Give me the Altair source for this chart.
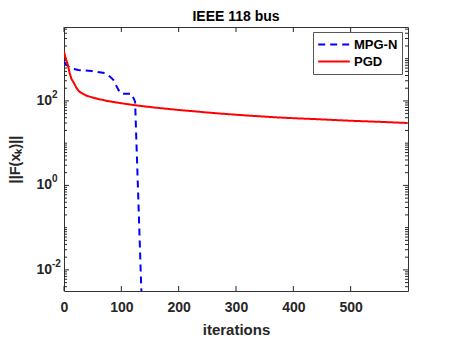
import altair as alt
import pandas as pd
import numpy as np

# ---- data ----
mpg_x = [0, 6, 13, 25, 48, 71, 78, 86, 95, 100, 118, 124, 135]
mpg_y = [810, 680, 590, 540, 510, 455, 400, 315, 182, 147, 147, 96, 0.003]

pgd_x = [0, 3, 6, 10, 13, 16, 19, 22, 26, 31, 40, 54, 75, 100, 130, 157, 200, 266, 320, 382, 440, 498, 550, 599]
pgd_y = [1480, 1000, 780, 450, 330, 285, 240, 200, 170, 152, 132, 116, 100, 88, 77, 70, 61, 51, 45, 40, 37, 34, 32, 30]

x_ticks = [0, 100, 200, 300, 400, 500]
y_major = [0.01, 1, 100]
y_minor = [m * 10.0 ** k for k in range(-3, 4) for m in range(1, 10)
           if 10 ** -2.5 <= m * 10.0 ** k <= 10 ** 3.75 and not any(abs(m * 10.0 ** k - v) < 1e-12 for v in y_major)]

W, H = 344, 264
FONT = "Liberation Sans"
AX = "#262626"

df = pd.concat([
    pd.DataFrame({"it": mpg_x, "val": mpg_y, "method": "MPG-N"}),
    pd.DataFrame({"it": pgd_x, "val": pgd_y, "method": "PGD"}),
])

xs = alt.Scale(domain=[0, 600], nice=False, zero=False)
ys = alt.Scale(type="log", domain=[10 ** -2.5, 10 ** 3.75], nice=False)

lines = alt.Chart(df).mark_line(strokeWidth=2, clip=True).encode(
    x=alt.X("it:Q", scale=xs,
            axis=alt.Axis(values=x_ticks, domain=False, ticks=False, tickSize=0, grid=False,
                          labelFlush=False,
                          labelFont=FONT, labelFontSize=14, labelFontWeight="bold", labelColor=AX,
                          labelPadding=9, title="iterations", titleFont=FONT, titleFontSize=15,
                          titleFontWeight="bold", titleColor=AX, titleX=W / 2, titleY=38,
                          titleBaseline="middle")),
    y=alt.Y("val:Q", scale=ys,
            axis=alt.Axis(labels=False, domain=False, ticks=False, grid=False,
                          title="||F(xₖ)||", titleFont=FONT, titleFontSize=14.5, titleFontWeight="bold",
                          titleColor=AX, titleX=-48.5, titleY=H / 2, titleAngle=270,
                          titleAlign="center", titleBaseline="middle")),
    color=alt.Color("method:N", scale=alt.Scale(domain=["MPG-N", "PGD"], range=["#0000ff", "#ff0000"]),
                    legend=alt.Legend(title=None, orient="none", legendX=249, legendY=5,
                                      symbolType="stroke", symbolSize=1000, symbolStrokeWidth=2,
                                      clipHeight=17, rowPadding=0,
                                      labelFont=FONT, labelFontSize=13, labelFontWeight="bold",
                                      labelColor="#000000", labelOffset=3,
                                      padding=4, fillColor="white", strokeColor="#555555")),
    strokeDash=alt.StrokeDash("method:N", scale=alt.Scale(domain=["MPG-N", "PGD"], range=[[7, 5], [1, 0]]),
                              legend=None),
)

xt = pd.DataFrame({"t": x_ticks})
xtick_b = alt.Chart(xt).mark_rule(color=AX, strokeWidth=1).encode(
    x=alt.X("t:Q", scale=xs), y=alt.value(H), y2=alt.value(H - 5))
xtick_t = alt.Chart(xt).mark_rule(color=AX, strokeWidth=1).encode(
    x=alt.X("t:Q", scale=xs), y=alt.value(0), y2=alt.value(5))

ymj = pd.DataFrame({"t": y_major, "base": ["10"] * len(y_major),
                    "exp": [str(int(round(np.log10(v)))) for v in y_major]})
ymn = pd.DataFrame({"t": y_minor})
ytick_l = alt.Chart(ymj).mark_rule(color=AX, strokeWidth=1).encode(
    y=alt.Y("t:Q", scale=ys), x=alt.value(0), x2=alt.value(5))
ytick_r = alt.Chart(ymj).mark_rule(color=AX, strokeWidth=1).encode(
    y=alt.Y("t:Q", scale=ys), x=alt.value(W), x2=alt.value(W - 5))
yminor_l = alt.Chart(ymn).mark_rule(color=AX, strokeWidth=1).encode(
    y=alt.Y("t:Q", scale=ys), x=alt.value(0), x2=alt.value(3))
yminor_r = alt.Chart(ymn).mark_rule(color=AX, strokeWidth=1).encode(
    y=alt.Y("t:Q", scale=ys), x=alt.value(W), x2=alt.value(W - 3))

ybase = alt.Chart(ymj).mark_text(align="right", baseline="middle", font=FONT, fontSize=14,
                                 fontWeight="bold", color=AX).encode(
    y=alt.Y("t:Q", scale=ys), x=alt.value(-12), text="base:N")
yexp = alt.Chart(ymj).mark_text(align="left", baseline="middle", font=FONT, fontSize=10,
                                fontWeight="bold", color=AX, dy=-6).encode(
    y=alt.Y("t:Q", scale=ys), x=alt.value(-12), text="exp:N")

chart = alt.layer(
    xtick_b, xtick_t, ytick_l, ytick_r, yminor_l, yminor_r, ybase, yexp, lines
).properties(
    width=W, height=H,
    title=alt.TitleParams("IEEE 118 bus", font=FONT, fontSize=14, fontWeight="bold", color="#000000",
                          anchor="middle", offset=3),
    autosize=alt.AutoSizeParams(type="none"),
    padding={"left": 56, "top": 19, "right": 35, "bottom": 47},
).configure_view(stroke="#333333", strokeWidth=1).resolve_scale(color="shared")

chart.save("out.html", embed_options={"renderer": "svg", "actions": False})
